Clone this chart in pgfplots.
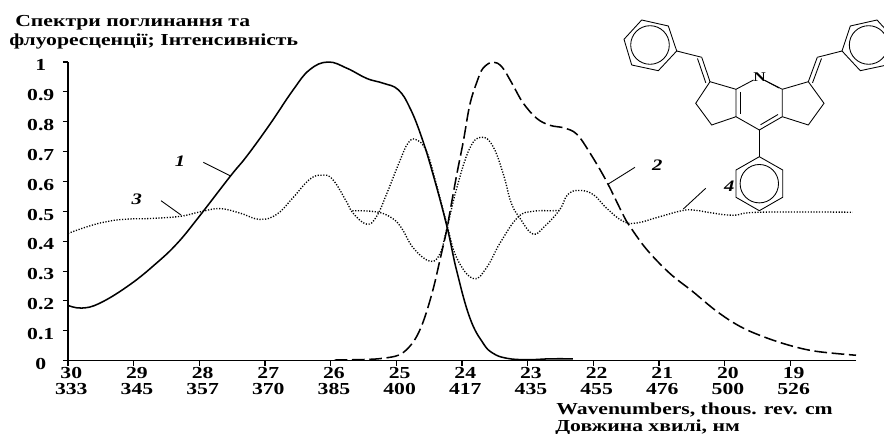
\documentclass[border=0pt]{standalone}
\usepackage{fontspec}
\setmainfont[FakeStretch=1.29]{Liberation Serif}
\usepackage{pgfplots}
\pgfplotsset{compat=1.18}
\begin{document}
\begin{tikzpicture}[x=1pt,y=1pt]
\path[use as bounding box] (0,0) rectangle (663pt,325.5pt);
\begin{axis}[
  at={(51pt,55.025pt)}, anchor=south west,
  scale only axis, width=591pt, height=223.95pt,
  xmin=18, xmax=30, ymin=0, ymax=1,
  x dir=reverse,
  axis x line*=bottom, axis y line*=left,
  axis line style={line width=1.2pt,-},
  tick align=outside, major tick length=3.75pt,
  every tick/.style={black,line width=0.8pt},
  xtick={30,29,...,19},
  xticklabels={{30\\333},{29\\345},{28\\357},{27\\370},{26\\385},{25\\400},{24\\417},{23\\435},{22\\455},{21\\476},{20\\500},{19\\526}},
  xticklabel style={align=center,font=\bfseries\fontsize{12.6}{12}\selectfont,xshift=2.5pt,inner sep=1pt},
  ytick={0,0.1,...,1},
  yticklabels={0,0.1,0.2,0.3,0.4,0.5,0.6,0.7,0.8,0.9,1},
  yticklabel style={font=\bfseries\fontsize{12.6}{12}\selectfont,text width=21pt,align=center,anchor=east,inner sep=0pt,xshift=-6pt,yshift=-2.5pt},
  clip=false,
]
\addplot[black,line width=1.15pt,smooth,tension=0.7] coordinates {
(30,0.185)(29.79,0.176)(29.51,0.193)(29.06,0.254)(28.65,0.327)(28.34,0.392)(28.04,0.472)(27.53,0.617)(27.28,0.684)(26.93,0.79)(26.57,0.907)(26.32,0.974)(26.04,1.0)(25.75,0.979)(25.45,0.945)(25.2,0.929)(24.97,0.907)(24.79,0.845)(24.61,0.745)(24.44,0.623)(24.23,0.45)(24.08,0.3)(23.88,0.143)(23.68,0.059)(23.53,0.025)(23.32,0.008)(23.01,0.003)(22.66,0.006)(22.31,0.006)};
\addplot[black,line width=1.15pt,smooth,tension=0.6,dash pattern=on 9.5pt off 3.5pt] coordinates {
(25.94,0.002)(25.45,0.004)(25.2,0.008)(24.97,0.018)(24.82,0.042)(24.69,0.081)(24.57,0.143)(24.44,0.239)(24.34,0.333)(24.23,0.44)(24.19,0.49)(24.08,0.623)(23.98,0.734)(23.88,0.858)(23.77,0.935)(23.68,0.979)(23.53,1.0)(23.39,0.983)(23.24,0.929)(23.07,0.863)(22.86,0.811)(22.66,0.788)(22.44,0.779)(22.25,0.758)(22.05,0.695)(21.8,0.601)(21.55,0.49)(21.45,0.452)(21.19,0.373)(20.84,0.293)(20.49,0.232)(20.12,0.165)(19.77,0.115)(19.42,0.081)(19.01,0.051)(18.6,0.031)(18.0,0.018)};
\addplot[black,line width=1pt,smooth,tension=0.7,dash pattern=on 0.9pt off 1.2pt] coordinates {
(30,0.426)(29.77,0.444)(29.51,0.461)(29.3,0.470)(29.0,0.475)(28.75,0.476)(28.30,0.483)(27.99,0.498)(27.69,0.509)(27.38,0.494)(27.08,0.473)(26.82,0.490)(26.58,0.544)(26.32,0.607)(26.13,0.621)(25.97,0.607)(25.76,0.533)(25.66,0.494)(25.45,0.457)(25.30,0.483)(25.15,0.557)(24.95,0.667)(24.82,0.729)(24.70,0.740)(24.54,0.701)(24.39,0.590)(24.23,0.456)(24.08,0.344)(23.83,0.275)(23.63,0.310)(23.42,0.394)(23.15,0.480)(22.92,0.500)(22.64,0.502)(22.51,0.503)};
\addplot[black,line width=1pt,smooth,tension=0.7,dash pattern=on 0.9pt off 1.2pt] coordinates {
(25.67,0.502)(25.30,0.498)(25.07,0.478)(24.92,0.444)(24.74,0.377)(24.49,0.333)(24.34,0.356)(24.24,0.433)(24.08,0.578)(23.88,0.712)(23.70,0.748)(23.53,0.718)(23.37,0.624)(23.25,0.528)(23.12,0.478)(22.92,0.424)(22.74,0.450)(22.51,0.506)(22.39,0.556)(22.21,0.570)(22.00,0.556)(21.80,0.511)(21.55,0.467)(21.34,0.461)(21.02,0.480)(20.63,0.503)(20.43,0.503)(20.23,0.496)(19.87,0.487)(19.47,0.497)(18.05,0.497)};
\end{axis}
\begin{scope}[x=0.75pt,y=-0.75pt,yshift=325.5pt]
\clip (0,0) rectangle (884,434);
\begin{scope}[line width=0.65pt,black]
\draw (641.7,20)--(668.3,26)--(676.7,51)--(658.3,70.7)--(631.7,65)--(624,39.3)--cycle;
\draw (650,45) circle[radius=19.3*0.75pt];
\draw (676.7,51)--(701.7,57.3);
\draw (701.7,57.3)--(710,81.7);
\draw (697.5,58.5)--(705.8,82.9);
\draw (710,81.7)--(695.7,103.3)--(711.7,125)--(736,116.7)--(736,89.3)--cycle;
\draw (736,89.3)--(753.5,80);
\draw (765,80.5)--(782.3,89.3)--(782.3,116.7)--(759.3,130)--(736,116.7);
\draw (740.5,92)--(740.5,114.5);
\draw (763,79.5)--(779,88);
\draw (778,114.5)--(760.5,124.8);
\draw (782.3,89.3)--(808.3,81.7)--(824,103.3)--(808.3,125)--(782.3,116.7);
\draw (808.3,81.7)--(817.3,57.3);
\draw (812.5,82.9)--(821.5,58.5);
\draw (817.3,57.3)--(842,51);
\draw (877,20)--(850.3,26)--(842,51)--(860.3,70.7)--(887,65)--(894.6,39.3)--cycle;
\draw (868.6,45) circle[radius=19.3*0.75pt];
\draw (759.3,130)--(759.3,156.7);
\draw (759.3,156.7)--(782.7,170)--(782.7,197.3)--(759.3,210.7)--(736,197.3)--(736,170)--cycle;
\draw (759.3,183.7) circle[radius=19.2*0.75pt];
\draw (203.3,162.3)--(230,175.7);
\draw (161,200.7)--(181,215);
\draw (635,167.3)--(608.3,184);
\draw (705.7,188.3)--(683.3,209);
\end{scope}
\node[inner sep=0pt,font=\bfseries\fontsize{10}{10}\selectfont] at (759.5,77) {N};
\foreach \t/\xx/\yy in {1/180/161,3/136.7/199.5,2/657.3/165.7,4/729.3/186.7}
  \node[inner sep=0pt,font=\bfseries\itshape\fontsize{12}{12}\selectfont] at (\xx,\yy) {\t};
\node[anchor=base west,inner sep=0pt,font=\bfseries\fontsize{12.6}{12}\selectfont] at (15,27) {Спектри поглинання та};
\node[anchor=base west,inner sep=0pt,font=\bfseries\fontsize{12.6}{12}\selectfont] at (9,46) {флуоресценції; Інтенсивність};
\node[anchor=base west,inner sep=0pt,font=\bfseries\fontsize{12.6}{12}\selectfont] at (556,415) {Wavenumbers, thous. rev. cm};
\node[anchor=base west,inner sep=0pt,font=\bfseries\fontsize{12.6}{12}\selectfont] at (555,432) {Довжина хвилі, нм};
\end{scope}
\end{tikzpicture}
\end{document}
